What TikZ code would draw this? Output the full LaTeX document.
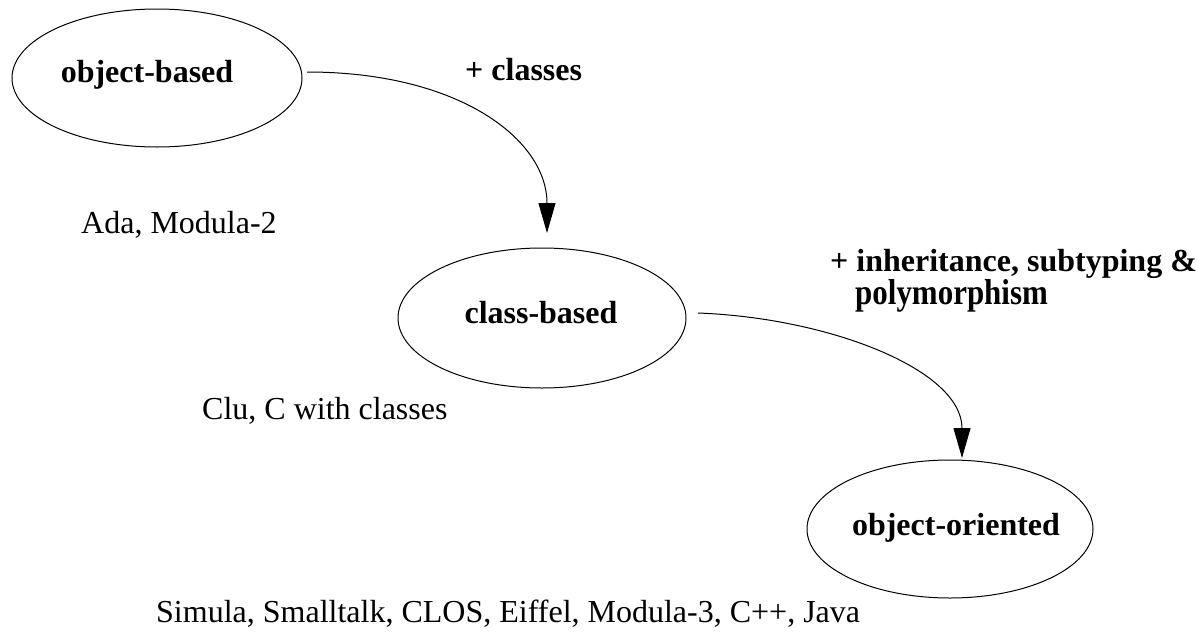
\documentclass[tikz,border=0pt]{standalone}
\usepackage{fontspec}
\setmainfont{Liberation Serif}
\usetikzlibrary{arrows.meta,shapes.geometric}
\begin{document}
\begin{tikzpicture}[x=1pt,y=-1pt,
  txt/.style={font=\fontsize{32}{34}\selectfont, inner sep=0pt, anchor=base west},
  btxt/.style={font=\fontsize{32}{34}\selectfont\bfseries, inner sep=0pt, anchor=base},
  ell/.style={draw, line width=1pt},
  conn/.style={line width=1pt, -{Triangle[length=30pt,width=17pt]}}]
\useasboundingbox (0,0) rectangle (1197,632);
\draw[ell] (157,78) ellipse [x radius=145, y radius=69];
\draw[ell] (542,318) ellipse [x radius=144, y radius=70];
\draw[ell] (950,529) ellipse [x radius=143, y radius=69];
\node[btxt] (ob) at (147,82) {object-based};
\node[btxt] (cb) at (541,323) {class-based};
\node[btxt] (oo) at (956,535) {object-oriented};
\coordinate (s1) at (307,72);
\coordinate (t1) at (547,233);
\coordinate (s2) at (698,313);
\coordinate (t2) at (962,458);
\draw[conn] (s1) .. controls (460,72) and (547,140) .. (t1);
\draw[conn] (s2) .. controls (830,318) and (962,370) .. (t2);
\node[btxt, anchor=base west] (l1) at (465,80) {+ classes};
\node[txt] (a1) at (81,233) {Ada, Modula-2};
\node[btxt, anchor=base west] (l2a) at (830,271) {+ inheritance, subtyping \&};
\node[anchor=base west, inner sep=0pt] (l2b) at (855,304) {\scalebox{0.86}[1]{\fontsize{36}{38}\selectfont\bfseries polymorphism}};
\node[txt] (a2) at (202,419) {Clu, C with classes};
\node[txt] (a3) at (156,622) {Simula, Smalltalk, CLOS, Eiffel, Modula-3, C++, Java};
\end{tikzpicture}
\end{document}
